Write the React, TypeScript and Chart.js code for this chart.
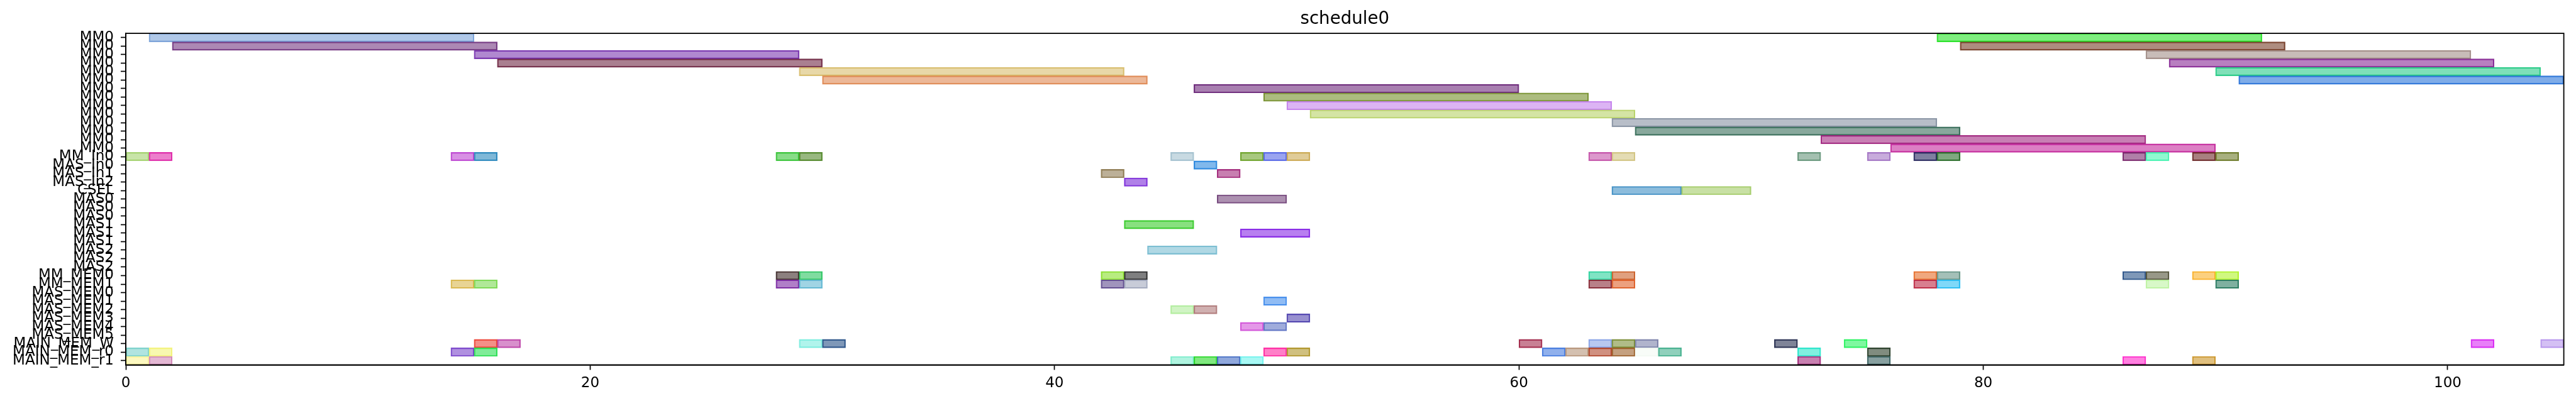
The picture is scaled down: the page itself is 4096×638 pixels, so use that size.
import { useEffect, useRef } from 'react';
import { Chart, registerables } from 'chart.js';

Chart.register(...registerables);

const chartTitle = 'schedule0';

const rowLabels: string[] = [
  'MM0', 'MM0', 'MM0', 'MM0', 'MM0', 'MM0', 'MM0', 'MM0', 'MM0', 'MM0', 'MM0', 'MM0', 'MM0', 'MM0',
  'MM_In0', 'MAS_In0', 'MAS_In1', 'MAS_In2', 'CSEL',
  'MAS0', 'MAS0', 'MAS0', 'MAS1', 'MAS1', 'MAS1', 'MAS2', 'MAS2', 'MAS2',
  'MM_MEM0', 'MM_MEM1',
  'MAS_MEM0', 'MAS_MEM1', 'MAS_MEM2', 'MAS_MEM3', 'MAS_MEM4', 'MAS_MEM5',
  'MAIN_MEM_W', 'MAIN_MEM_r0', 'MAIN_MEM_r1',
];

const xTicks: number[] = [0, 20, 40, 60, 80, 100];
const xMax = 105;

// task start times, one list per row
const taskStarts: number[][] = [
  [1, 78], [2, 79], [15, 87], [16, 88], [29, 90], [30, 91],
  [46], [49], [50], [51], [64], [65], [73], [76],
  [0, 1, 14, 15, 28, 29, 45, 48, 49, 50, 63, 64, 72, 75, 77, 78, 86, 87, 89, 90],
  [46], [42, 47], [43], [64, 67],
  [47], [], [], [43], [48], [], [44], [], [],
  [28, 29, 42, 43, 63, 64, 77, 78, 86, 87, 89, 90],
  [14, 15, 28, 29, 42, 43, 63, 64, 77, 78, 87, 90],
  [], [49], [45, 46], [50], [48, 49], [],
  [15, 16, 29, 30, 60, 63, 64, 65, 71, 74, 101, 104],
  [0, 1, 14, 15, 49, 50, 61, 62, 63, 64, 65, 66, 72, 75],
  [0, 1, 45, 46, 47, 48, 72, 75, 86, 89],
];

// task end times, one list per row
const taskEnds: number[][] = [
  [15, 92], [16, 93], [29, 101], [30, 102], [43, 104], [44, 105],
  [60], [63], [64], [65], [78], [79], [87], [90],
  [1, 2, 15, 16, 29, 30, 46, 49, 50, 51, 64, 65, 73, 76, 78, 79, 87, 88, 90, 91],
  [47], [43, 48], [44], [67, 70],
  [50], [], [], [46], [51], [], [47], [], [],
  [29, 30, 43, 44, 64, 65, 78, 79, 87, 88, 90, 91],
  [15, 16, 29, 30, 43, 44, 64, 65, 78, 79, 88, 91],
  [], [50], [46, 47], [51], [49, 50], [],
  [16, 17, 30, 31, 61, 64, 65, 66, 72, 75, 102, 105],
  [1, 2, 15, 16, 50, 51, 62, 63, 64, 65, 66, 67, 73, 76],
  [1, 2, 46, 47, 48, 49, 73, 76, 87, 90],
];

// colours as seen on white (half transparent)
const taskColors: string[][] = [
  ['#b0c8e8', '#74ee6c'], ['#ac88b4', '#ae8c78'], ['#b088d0', '#c8bcb8'], ['#aa7090', '#b87cc0'],
  ['#e8d8a8', '#7ce0b8'], ['#ecb898', '#6cace8'],
  ['#a87cb0'], ['#acbc70'], ['#dcb4f4'], ['#d4e4a4'], ['#b8bec8'], ['#88a89c'], ['#c870b4'], ['#dc6cc4'],
  ['#c8e4a8', '#ec70cc', '#d890e4', '#78b8d8', '#88dc88', '#98b880', '#c8dae2', '#a8c870', '#9aa4f0', '#e0cc98',
    '#dc98cc', '#e4dcb4', '#a4c0b0', '#c8acdc', '#6870a0', '#68a870', '#b070a8', '#90f8d0', '#a87068', '#a8b078'],
  ['#80b8ec'], ['#bcb098', '#c868b0'], ['#b080e8'], ['#8cbcdc', '#c8e0a4'],
  ['#ac90b0'], [], [], ['#88e070'], ['#b870f0'], [], ['#b0d8e4'], [], [],
  ['#8c8070', '#80dca0', '#b8ec80', '#6c7880', '#80e4c4', '#e0a064', '#f0a878', '#a4c0b8', '#7898b8', '#989888', '#fcd068', '#d0f880'],
  ['#e8d494', '#b0e898', '#b068c8', '#a0d4e4', '#a094bc', '#c8ccd8', '#b88088', '#eca07c', '#d87090', '#80d8f8', '#d8f8c8', '#68b0a0'],
  [], ['#90bcf4'], ['#d0f4c4', '#d0b0b0'], ['#9890d0'], ['#e498e8', '#a0acdc'], [],
  ['#f49088', '#d890cc', '#b0f4ec', '#7898b8', '#c88094', '#b8c8f0', '#b0bc88', '#b0b4cc', '#788498', '#68f8a0', '#e868f8', '#d4c0f4'],
  ['#b0e4e0', '#f8f8b0', '#b090e0', '#78ec98', '#ff68c8', '#d0c070', '#90b0ec', '#d4c0b0', '#d09080', '#c4a070', '#f8fcf8', '#90d0bc', '#80f0e0', '#808c78'],
  ['#fcf8c0', '#e4b8d4', '#b0f4e0', '#80e878', '#90a8dc', '#a8f8f4', '#c880b0', '#88a0a0', '#ff80e0', '#e0c070'],
];

const FONT = { family: "'DejaVu Sans', sans-serif", size: 23, weight: 'normal' as const };
const TITLE_FONT = { family: "'DejaVu Sans', sans-serif", size: 27.7, weight: 'normal' as const };

function baseRgb(hex: string): string {
  const n = parseInt(hex.slice(1), 16);
  const ch = [(n >> 16) & 255, (n >> 8) & 255, n & 255].map((v) => Math.max(0, Math.min(255, 2 * v - 255)));
  return ch.join(',');
}

const framePlugin = {
  id: 'frame',
  afterDraw(chart: any) {
    const { ctx, chartArea } = chart;
    ctx.save();
    ctx.strokeStyle = '#000';
    ctx.lineWidth = 1.8;
    ctx.strokeRect(chartArea.left, chartArea.top, chartArea.right - chartArea.left, chartArea.bottom - chartArea.top);
    ctx.restore();
  },
};

export default function App() {
  const ref = useRef<HTMLCanvasElement>(null);
  useEffect(() => {
    const canvas = ref.current;
    if (!canvas) return;
    const points: any[] = [];
    const fills: string[] = [];
    const edges: string[] = [];
    rowLabels.forEach((_, r) => {
      taskStarts[r].forEach((s, k) => {
        points.push({ x: [s, taskEnds[r][k]], y: String(r) });
        const c = baseRgb(taskColors[r][k]);
        fills.push(`rgba(${c},0.5)`);
        edges.push(`rgba(${c},0.78)`);
      });
    });
    const chart = new Chart(canvas, {
      type: 'bar',
      data: {
        labels: rowLabels.map((_, i) => String(i)),
        datasets: [
          {
            data: points,
            backgroundColor: fills,
            borderColor: edges,
            borderWidth: 1.5,
            borderSkipped: false,
            barPercentage: 1,
            categoryPercentage: 1,
          } as any,
        ],
      },
      options: {
        indexAxis: 'y',
        responsive: false,
        animation: false,
        devicePixelRatio: 1,
        layout: { padding: { top: 0, right: 19.4, bottom: 0, left: 0 } },
        plugins: {
          legend: { display: false },
          tooltip: { enabled: false },
          title: {
            display: true,
            text: chartTitle,
            fullSize: false,
            color: '#000',
            font: TITLE_FONT,
            padding: { top: 13.8, bottom: 6 },
          },
        },
        scales: {
          x: {
            type: 'linear',
            min: 0,
            max: xMax,
            afterBuildTicks: (s: any) => {
              s.ticks = xTicks.map((v) => ({ value: v }));
            },
            afterFit: (s: any) => {
              s.height = 57.5;
            },
            ticks: { font: FONT, color: '#000', padding: 8, maxRotation: 0 },
            grid: { drawOnChartArea: false, drawTicks: true, tickLength: 8, tickWidth: 1.7, tickColor: '#000' },
            border: { display: true, color: '#000', width: 1.8 },
          },
          y: {
            type: 'category',
            offset: true,
            afterFit: (s: any) => {
              s.width = 200;
            },
            ticks: {
              autoSkip: false,
              font: FONT,
              color: '#000',
              padding: 11,
              callback: (_v: any, i: number) => rowLabels[i],
            },
            grid: { offset: false, drawOnChartArea: false, drawTicks: true, tickLength: 8, tickWidth: 1.7, tickColor: '#000' },
            border: { display: true, color: '#000', width: 1.8 },
          },
        },
      } as any,
      plugins: [framePlugin],
    });
    return () => chart.destroy();
  }, []);
  return (
    <div style={{ position: 'fixed', left: 0, top: 0, width: 4096, height: 638, background: '#fff' }}>
      <canvas ref={ref} width={4096} height={638} style={{ display: 'block' }} />
    </div>
  );
}
